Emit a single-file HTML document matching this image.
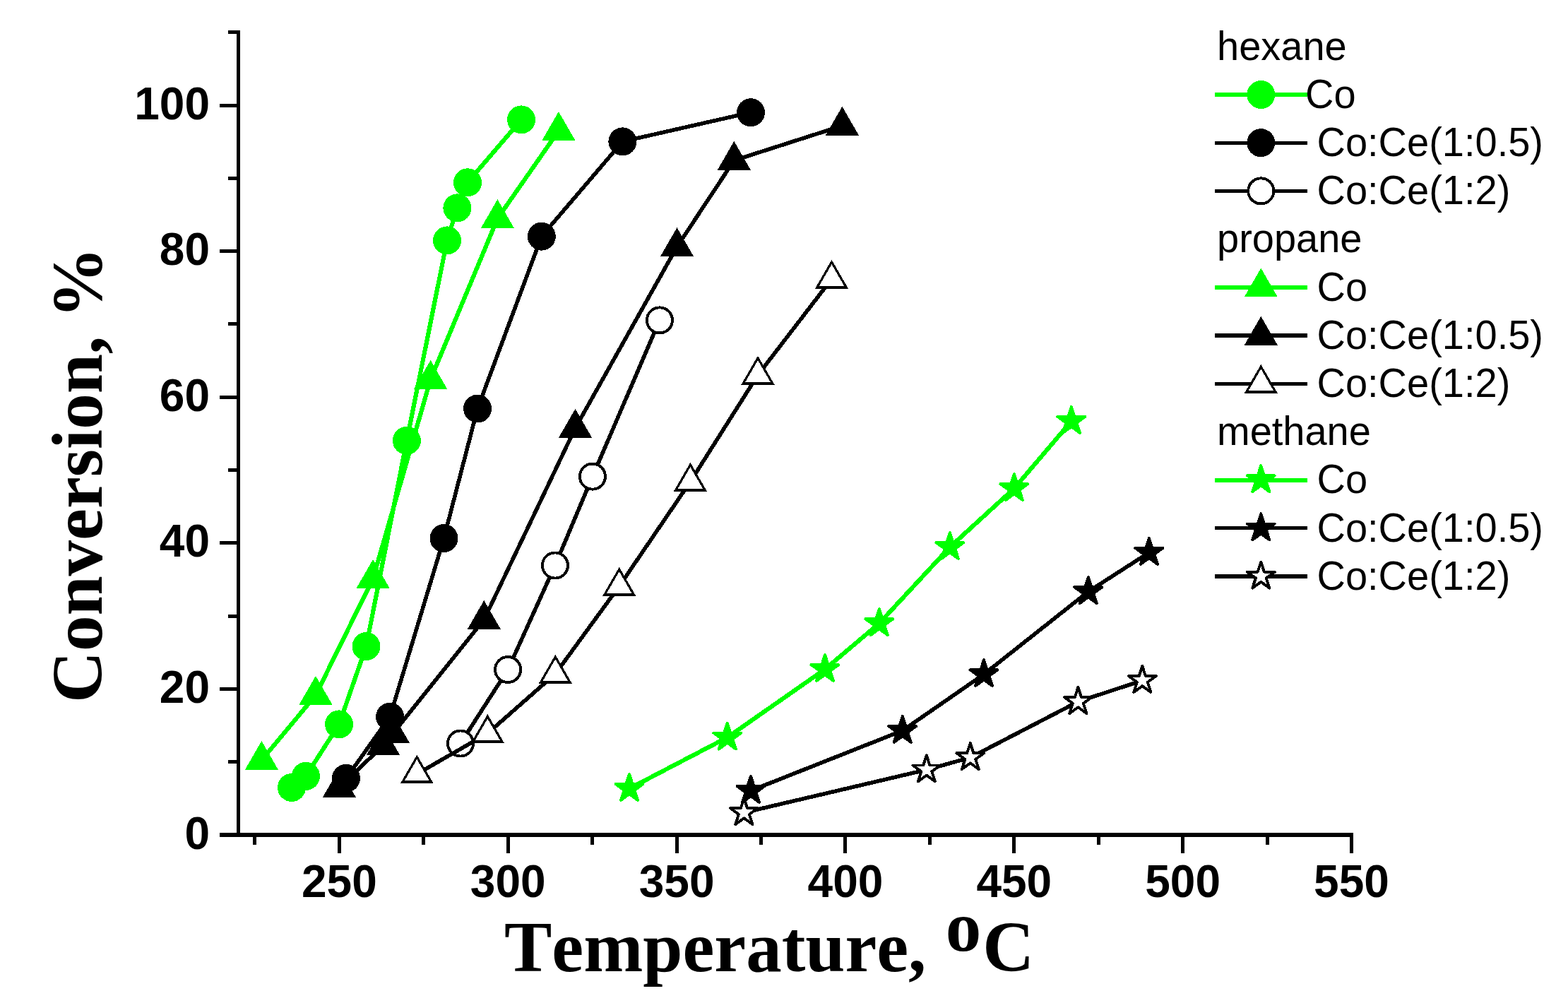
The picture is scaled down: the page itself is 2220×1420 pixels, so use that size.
<!DOCTYPE html>
<html><head><meta charset="utf-8"><title>Conversion vs Temperature</title>
<style>
html,body{margin:0;padding:0;background:#fff;}
svg{display:block;}
line,path,polygon,circle{shape-rendering:crispEdges;}
.tl{font-kerning:none;font-family:"Liberation Sans",Arial,sans-serif;font-weight:bold;font-size:64px;fill:#000;}
.at{font-kerning:none;font-family:"Liberation Serif","Times New Roman",serif;font-weight:bold;font-size:101px;fill:#000;}
.lg{font-kerning:none;font-family:"Liberation Sans",Arial,sans-serif;font-size:56px;fill:#000;}
</style></head><body>
<svg width="2220" height="1420" viewBox="0 0 2220 1420">
<rect width="2220" height="1420" fill="#fff"/>
<line x1="337.5" y1="43" x2="337.5" y2="1182" stroke="#000" stroke-width="5"/>
<line x1="311" y1="1182" x2="1915.5" y2="1182" stroke="#000" stroke-width="5.5"/>
<line x1="323" y1="1078.7" x2="337.5" y2="1078.7" stroke="#000" stroke-width="5"/>
<line x1="311" y1="975.4" x2="337.5" y2="975.4" stroke="#000" stroke-width="5"/>
<line x1="323" y1="872.1" x2="337.5" y2="872.1" stroke="#000" stroke-width="5"/>
<line x1="311" y1="768.8" x2="337.5" y2="768.8" stroke="#000" stroke-width="5"/>
<line x1="323" y1="665.5" x2="337.5" y2="665.5" stroke="#000" stroke-width="5"/>
<line x1="311" y1="562.2" x2="337.5" y2="562.2" stroke="#000" stroke-width="5"/>
<line x1="323" y1="458.9" x2="337.5" y2="458.9" stroke="#000" stroke-width="5"/>
<line x1="311" y1="355.6" x2="337.5" y2="355.6" stroke="#000" stroke-width="5"/>
<line x1="323" y1="252.3" x2="337.5" y2="252.3" stroke="#000" stroke-width="5"/>
<line x1="311" y1="149" x2="337.5" y2="149" stroke="#000" stroke-width="5"/>
<line x1="323" y1="45.7" x2="337.5" y2="45.7" stroke="#000" stroke-width="5"/>
<line x1="360.97" y1="1182" x2="360.97" y2="1196" stroke="#000" stroke-width="5"/>
<line x1="480.4" y1="1182" x2="480.4" y2="1207.6" stroke="#000" stroke-width="5"/>
<line x1="599.82" y1="1182" x2="599.82" y2="1196" stroke="#000" stroke-width="5"/>
<line x1="719.25" y1="1182" x2="719.25" y2="1207.6" stroke="#000" stroke-width="5"/>
<line x1="838.67" y1="1182" x2="838.67" y2="1196" stroke="#000" stroke-width="5"/>
<line x1="958.1" y1="1182" x2="958.1" y2="1207.6" stroke="#000" stroke-width="5"/>
<line x1="1077.53" y1="1182" x2="1077.53" y2="1196" stroke="#000" stroke-width="5"/>
<line x1="1196.95" y1="1182" x2="1196.95" y2="1207.6" stroke="#000" stroke-width="5"/>
<line x1="1316.38" y1="1182" x2="1316.38" y2="1196" stroke="#000" stroke-width="5"/>
<line x1="1435.8" y1="1182" x2="1435.8" y2="1207.6" stroke="#000" stroke-width="5"/>
<line x1="1555.22" y1="1182" x2="1555.22" y2="1196" stroke="#000" stroke-width="5"/>
<line x1="1674.65" y1="1182" x2="1674.65" y2="1207.6" stroke="#000" stroke-width="5"/>
<line x1="1794.07" y1="1182" x2="1794.07" y2="1196" stroke="#000" stroke-width="5"/>
<line x1="1913.5" y1="1182" x2="1913.5" y2="1207.6" stroke="#000" stroke-width="5"/>
<path d="M413,1115 L433,1098.9 L480.1,1025.4 L518.5,915.1 L575.9,623.8 L633,340.4 L647.4,294.4 L662,258.3 L738.1,169.4" fill="none" stroke="#00ff00" stroke-width="6.2" stroke-linejoin="round"/>
<circle cx="413" cy="1115" r="20" fill="#00ff00"/>
<circle cx="433" cy="1098.9" r="20" fill="#00ff00"/>
<circle cx="480.1" cy="1025.4" r="20" fill="#00ff00"/>
<circle cx="518.5" cy="915.1" r="20" fill="#00ff00"/>
<circle cx="575.9" cy="623.8" r="20" fill="#00ff00"/>
<circle cx="633" cy="340.4" r="20" fill="#00ff00"/>
<circle cx="647.4" cy="294.4" r="20" fill="#00ff00"/>
<circle cx="662" cy="258.3" r="20" fill="#00ff00"/>
<circle cx="738.1" cy="169.4" r="20" fill="#00ff00"/>
<path d="M490,1101.9 L552.1,1014.8 L628.5,762.1 L676.1,578.5 L766.8,334.6 L881.4,200.4 L1063,159.2" fill="none" stroke="#000000" stroke-width="5.6" stroke-linejoin="round"/>
<circle cx="490" cy="1101.9" r="20" fill="#000000"/>
<circle cx="552.1" cy="1014.8" r="20" fill="#000000"/>
<circle cx="628.5" cy="762.1" r="20" fill="#000000"/>
<circle cx="676.1" cy="578.5" r="20" fill="#000000"/>
<circle cx="766.8" cy="334.6" r="20" fill="#000000"/>
<circle cx="881.4" cy="200.4" r="20" fill="#000000"/>
<circle cx="1063" cy="159.2" r="20" fill="#000000"/>
<path d="M652,1052.5 L719.1,948 L785.9,800.5 L838.9,674.6 L933.9,453.4" fill="none" stroke="#000000" stroke-width="5.6" stroke-linejoin="round"/>
<circle cx="652" cy="1052.5" r="18.05" fill="#fff" stroke="#000000" stroke-width="3.9"/>
<circle cx="719.1" cy="948" r="18.05" fill="#fff" stroke="#000000" stroke-width="3.9"/>
<circle cx="785.9" cy="800.5" r="18.05" fill="#fff" stroke="#000000" stroke-width="3.9"/>
<circle cx="838.9" cy="674.6" r="18.05" fill="#fff" stroke="#000000" stroke-width="3.9"/>
<circle cx="933.9" cy="453.4" r="18.05" fill="#fff" stroke="#000000" stroke-width="3.9"/>
<path d="M370.4,1076.2 L447,984.1 L528.1,819.2 L609.6,537.1 L704.4,309.4 L790.9,185.2" fill="none" stroke="#00ff00" stroke-width="6.2" stroke-linejoin="round"/>
<polygon points="370.4,1049 393.95,1089.8 346.85,1089.8" fill="#00ff00"/>
<polygon points="447,956.9 470.55,997.7 423.45,997.7" fill="#00ff00"/>
<polygon points="528.1,792 551.65,832.8 504.55,832.8" fill="#00ff00"/>
<polygon points="609.6,509.9 633.15,550.7 586.05,550.7" fill="#00ff00"/>
<polygon points="704.4,282.2 727.95,323 680.85,323" fill="#00ff00"/>
<polygon points="790.9,158 814.45,198.8 767.35,198.8" fill="#00ff00"/>
<path d="M480.4,1115.2 L542.5,1055.2 L556.4,1038.3 L685.3,877.2 L814.5,606 L958.5,349.4 L1039.3,227.1 L1192.4,178" fill="none" stroke="#000000" stroke-width="5.6" stroke-linejoin="round"/>
<polygon points="480.4,1088 503.95,1128.8 456.85,1128.8" fill="#000000"/>
<polygon points="542.5,1028 566.05,1068.8 518.95,1068.8" fill="#000000"/>
<polygon points="556.4,1011.1 579.95,1051.9 532.85,1051.9" fill="#000000"/>
<polygon points="685.3,850 708.85,890.8 661.75,890.8" fill="#000000"/>
<polygon points="814.5,578.8 838.05,619.6 790.95,619.6" fill="#000000"/>
<polygon points="958.5,322.2 982.05,363 934.95,363" fill="#000000"/>
<polygon points="1039.3,199.9 1062.85,240.7 1015.75,240.7" fill="#000000"/>
<polygon points="1192.4,150.8 1215.95,191.6 1168.85,191.6" fill="#000000"/>
<path d="M590.3,1095.8 L690.3,1038.3 L786.3,954 L876.7,830 L977.4,682 L1073,530.9 L1177.5,395" fill="none" stroke="#000000" stroke-width="5.6" stroke-linejoin="round"/>
<polygon points="590.3,1068.6 613.85,1109.4 566.75,1109.4" fill="#000000"/><polygon points="590.3,1075 607.85,1105.4 572.75,1105.4" fill="#fff"/>
<polygon points="690.3,1011.1 713.85,1051.9 666.75,1051.9" fill="#000000"/><polygon points="690.3,1017.5 707.85,1047.9 672.75,1047.9" fill="#fff"/>
<polygon points="786.3,926.8 809.85,967.6 762.75,967.6" fill="#000000"/><polygon points="786.3,933.2 803.85,963.6 768.75,963.6" fill="#fff"/>
<polygon points="876.7,802.8 900.25,843.6 853.15,843.6" fill="#000000"/><polygon points="876.7,809.2 894.25,839.6 859.15,839.6" fill="#fff"/>
<polygon points="977.4,654.8 1000.95,695.6 953.85,695.6" fill="#000000"/><polygon points="977.4,661.2 994.95,691.6 959.85,691.6" fill="#fff"/>
<polygon points="1073,503.7 1096.55,544.5 1049.45,544.5" fill="#000000"/><polygon points="1073,510.1 1090.55,540.5 1055.45,540.5" fill="#fff"/>
<polygon points="1177.5,367.8 1201.05,408.6 1153.95,408.6" fill="#000000"/><polygon points="1177.5,374.2 1195.05,404.6 1159.95,404.6" fill="#fff"/>
<path d="M891,1116.4 L1029.8,1044 L1168,947.5 L1244.8,882.6 L1344.9,774.5 L1435.9,691.5 L1516.9,596.3" fill="none" stroke="#00ff00" stroke-width="6.2" stroke-linejoin="round"/>
<polygon points="891,1095.9 895.6,1110.07 910.5,1110.07 898.45,1118.82 903.05,1132.98 891,1124.23 878.95,1132.98 883.55,1118.82 871.5,1110.07 886.4,1110.07" fill="#00ff00" stroke="#00ff00" stroke-width="3.9" stroke-linejoin="round"/>
<polygon points="1029.8,1023.5 1034.4,1037.67 1049.3,1037.67 1037.25,1046.42 1041.85,1060.58 1029.8,1051.83 1017.75,1060.58 1022.35,1046.42 1010.3,1037.67 1025.2,1037.67" fill="#00ff00" stroke="#00ff00" stroke-width="3.9" stroke-linejoin="round"/>
<polygon points="1168,927 1172.6,941.17 1187.5,941.17 1175.45,949.92 1180.05,964.08 1168,955.33 1155.95,964.08 1160.55,949.92 1148.5,941.17 1163.4,941.17" fill="#00ff00" stroke="#00ff00" stroke-width="3.9" stroke-linejoin="round"/>
<polygon points="1244.8,862.1 1249.4,876.27 1264.3,876.27 1252.25,885.02 1256.85,899.18 1244.8,890.43 1232.75,899.18 1237.35,885.02 1225.3,876.27 1240.2,876.27" fill="#00ff00" stroke="#00ff00" stroke-width="3.9" stroke-linejoin="round"/>
<polygon points="1344.9,754 1349.5,768.17 1364.4,768.17 1352.35,776.92 1356.95,791.08 1344.9,782.33 1332.85,791.08 1337.45,776.92 1325.4,768.17 1340.3,768.17" fill="#00ff00" stroke="#00ff00" stroke-width="3.9" stroke-linejoin="round"/>
<polygon points="1435.9,671 1440.5,685.17 1455.4,685.17 1443.35,693.92 1447.95,708.08 1435.9,699.33 1423.85,708.08 1428.45,693.92 1416.4,685.17 1431.3,685.17" fill="#00ff00" stroke="#00ff00" stroke-width="3.9" stroke-linejoin="round"/>
<polygon points="1516.9,575.8 1521.5,589.97 1536.4,589.97 1524.35,598.72 1528.95,612.88 1516.9,604.13 1504.85,612.88 1509.45,598.72 1497.4,589.97 1512.3,589.97" fill="#00ff00" stroke="#00ff00" stroke-width="3.9" stroke-linejoin="round"/>
<path d="M1063,1119.4 L1277.8,1034.4 L1393,954.6 L1540.8,837.6 L1626.9,782.3" fill="none" stroke="#000000" stroke-width="5.6" stroke-linejoin="round"/>
<polygon points="1063,1098.9 1067.6,1113.07 1082.5,1113.07 1070.45,1121.82 1075.05,1135.98 1063,1127.23 1050.95,1135.98 1055.55,1121.82 1043.5,1113.07 1058.4,1113.07" fill="#000000" stroke="#000000" stroke-width="3.9" stroke-linejoin="round"/>
<polygon points="1277.8,1013.9 1282.4,1028.07 1297.3,1028.07 1285.25,1036.82 1289.85,1050.98 1277.8,1042.23 1265.75,1050.98 1270.35,1036.82 1258.3,1028.07 1273.2,1028.07" fill="#000000" stroke="#000000" stroke-width="3.9" stroke-linejoin="round"/>
<polygon points="1393,934.1 1397.6,948.27 1412.5,948.27 1400.45,957.02 1405.05,971.18 1393,962.43 1380.95,971.18 1385.55,957.02 1373.5,948.27 1388.4,948.27" fill="#000000" stroke="#000000" stroke-width="3.9" stroke-linejoin="round"/>
<polygon points="1540.8,817.1 1545.4,831.27 1560.3,831.27 1548.25,840.02 1552.85,854.18 1540.8,845.43 1528.75,854.18 1533.35,840.02 1521.3,831.27 1536.2,831.27" fill="#000000" stroke="#000000" stroke-width="3.9" stroke-linejoin="round"/>
<polygon points="1626.9,761.8 1631.5,775.97 1646.4,775.97 1634.35,784.72 1638.95,798.88 1626.9,790.13 1614.85,798.88 1619.45,784.72 1607.4,775.97 1622.3,775.97" fill="#000000" stroke="#000000" stroke-width="3.9" stroke-linejoin="round"/>
<path d="M1053.4,1150.5 L1311.8,1089.8 L1373.8,1072.5 L1526.4,993.4 L1617.3,963.4" fill="none" stroke="#000000" stroke-width="5.6" stroke-linejoin="round"/>
<polygon points="1053.4,1130 1058,1144.17 1072.9,1144.17 1060.85,1152.92 1065.45,1167.08 1053.4,1158.33 1041.35,1167.08 1045.95,1152.92 1033.9,1144.17 1048.8,1144.17" fill="#fff" stroke="#000000" stroke-width="3.9" stroke-linejoin="round"/>
<polygon points="1311.8,1069.3 1316.4,1083.47 1331.3,1083.47 1319.25,1092.22 1323.85,1106.38 1311.8,1097.63 1299.75,1106.38 1304.35,1092.22 1292.3,1083.47 1307.2,1083.47" fill="#fff" stroke="#000000" stroke-width="3.9" stroke-linejoin="round"/>
<polygon points="1373.8,1052 1378.4,1066.17 1393.3,1066.17 1381.25,1074.92 1385.85,1089.08 1373.8,1080.33 1361.75,1089.08 1366.35,1074.92 1354.3,1066.17 1369.2,1066.17" fill="#fff" stroke="#000000" stroke-width="3.9" stroke-linejoin="round"/>
<polygon points="1526.4,972.9 1531,987.07 1545.9,987.07 1533.85,995.82 1538.45,1009.98 1526.4,1001.23 1514.35,1009.98 1518.95,995.82 1506.9,987.07 1521.8,987.07" fill="#fff" stroke="#000000" stroke-width="3.9" stroke-linejoin="round"/>
<polygon points="1617.3,942.9 1621.9,957.07 1636.8,957.07 1624.75,965.82 1629.35,979.98 1617.3,971.23 1605.25,979.98 1609.85,965.82 1597.8,957.07 1612.7,957.07" fill="#fff" stroke="#000000" stroke-width="3.9" stroke-linejoin="round"/>
<text x="297" y="1201.5" text-anchor="end" class="tl">0</text>
<text x="297" y="994.9" text-anchor="end" class="tl">20</text>
<text x="297" y="788.3" text-anchor="end" class="tl">40</text>
<text x="297" y="581.7" text-anchor="end" class="tl">60</text>
<text x="297" y="375.1" text-anchor="end" class="tl">80</text>
<text x="297" y="168.5" text-anchor="end" class="tl">100</text>
<text x="480.4" y="1269.5" text-anchor="middle" class="tl">250</text>
<text x="719.25" y="1269.5" text-anchor="middle" class="tl">300</text>
<text x="958.1" y="1269.5" text-anchor="middle" class="tl">350</text>
<text x="1196.95" y="1269.5" text-anchor="middle" class="tl">400</text>
<text x="1435.8" y="1269.5" text-anchor="middle" class="tl">450</text>
<text x="1674.65" y="1269.5" text-anchor="middle" class="tl">500</text>
<text x="1913.5" y="1269.5" text-anchor="middle" class="tl">550</text>
<text x="714" y="1375" class="at">Temperature, <tspan dx="2" dy="-29">o</tspan><tspan dx="2" dy="29">C</tspan></text>
<text transform="translate(144,995) rotate(-90)" x="0" y="0" class="at">Conversion, %</text>
<text transform="translate(1723,84.6) scale(1,1.035)" class="lg">hexane</text>
<line x1="1720" y1="134" x2="1850.5" y2="134" stroke="#00ff00" stroke-width="6.0"/>
<circle cx="1785.3" cy="134" r="20" fill="#00ff00"/>
<text transform="translate(1848,152.8) scale(1,1.035)" class="lg">Co</text>
<line x1="1720" y1="202.2" x2="1850.5" y2="202.2" stroke="#000000" stroke-width="5.1"/>
<circle cx="1785.3" cy="202.2" r="20" fill="#000000"/>
<text transform="translate(1864.5,221) scale(1,1.035)" class="lg">Co:Ce(1:0.5)</text>
<line x1="1720" y1="270.4" x2="1850.5" y2="270.4" stroke="#000000" stroke-width="5.1"/>
<circle cx="1785.3" cy="270.4" r="18.05" fill="#fff" stroke="#000000" stroke-width="3.9"/>
<text transform="translate(1864.5,289.2) scale(1,1.035)" class="lg">Co:Ce(1:2)</text>
<text transform="translate(1723,357.4) scale(1,1.035)" class="lg">propane</text>
<line x1="1720" y1="406.8" x2="1850.5" y2="406.8" stroke="#00ff00" stroke-width="6.0"/>
<polygon points="1785.3,379.6 1808.85,420.4 1761.75,420.4" fill="#00ff00"/>
<text transform="translate(1864.5,425.6) scale(1,1.035)" class="lg">Co</text>
<line x1="1720" y1="475" x2="1850.5" y2="475" stroke="#000000" stroke-width="5.1"/>
<polygon points="1785.3,447.8 1808.85,488.6 1761.75,488.6" fill="#000000"/>
<text transform="translate(1864.5,493.8) scale(1,1.035)" class="lg">Co:Ce(1:0.5)</text>
<line x1="1720" y1="543.2" x2="1850.5" y2="543.2" stroke="#000000" stroke-width="5.1"/>
<polygon points="1785.3,516 1808.85,556.8 1761.75,556.8" fill="#000000"/><polygon points="1785.3,522.4 1802.85,552.8 1767.75,552.8" fill="#fff"/>
<text transform="translate(1864.5,562) scale(1,1.035)" class="lg">Co:Ce(1:2)</text>
<text transform="translate(1723,630.2) scale(1,1.035)" class="lg">methane</text>
<line x1="1720" y1="679.6" x2="1850.5" y2="679.6" stroke="#00ff00" stroke-width="6.0"/>
<polygon points="1785.3,659.1 1789.9,673.27 1804.8,673.27 1792.75,682.02 1797.35,696.18 1785.3,687.43 1773.25,696.18 1777.85,682.02 1765.8,673.27 1780.7,673.27" fill="#00ff00" stroke="#00ff00" stroke-width="3.9" stroke-linejoin="round"/>
<text transform="translate(1864.5,698.4) scale(1,1.035)" class="lg">Co</text>
<line x1="1720" y1="747.8" x2="1850.5" y2="747.8" stroke="#000000" stroke-width="5.1"/>
<polygon points="1785.3,727.3 1789.9,741.47 1804.8,741.47 1792.75,750.22 1797.35,764.38 1785.3,755.63 1773.25,764.38 1777.85,750.22 1765.8,741.47 1780.7,741.47" fill="#000000" stroke="#000000" stroke-width="3.9" stroke-linejoin="round"/>
<text transform="translate(1864.5,766.6) scale(1,1.035)" class="lg">Co:Ce(1:0.5)</text>
<line x1="1720" y1="816" x2="1850.5" y2="816" stroke="#000000" stroke-width="5.1"/>
<polygon points="1785.3,795.5 1789.9,809.67 1804.8,809.67 1792.75,818.42 1797.35,832.58 1785.3,823.83 1773.25,832.58 1777.85,818.42 1765.8,809.67 1780.7,809.67" fill="#fff" stroke="#000000" stroke-width="3.9" stroke-linejoin="round"/>
<text transform="translate(1864.5,834.8) scale(1,1.035)" class="lg">Co:Ce(1:2)</text>
</svg>
</body></html>
